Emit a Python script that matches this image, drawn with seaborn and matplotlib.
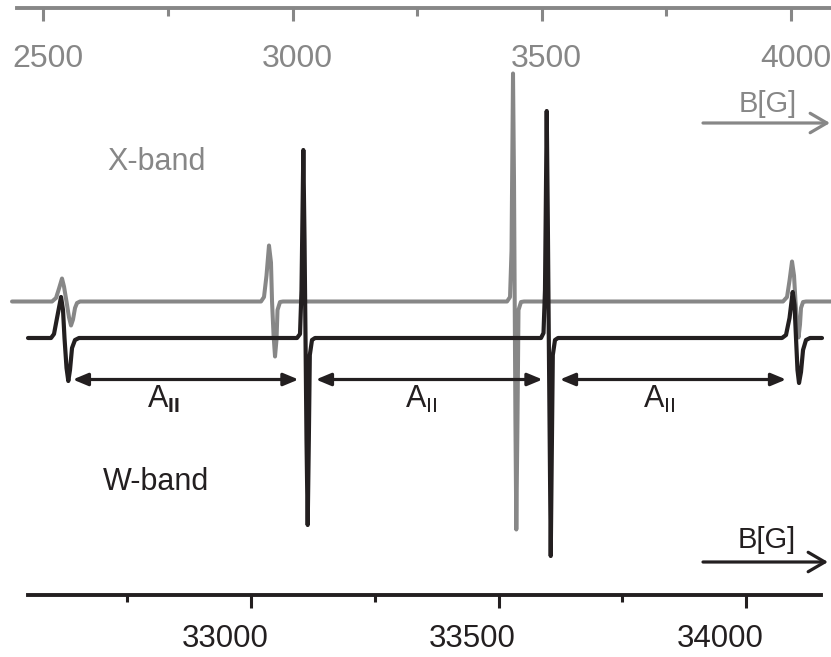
import numpy as np
import pandas as pd
import matplotlib
matplotlib.use("Agg")
import matplotlib.pyplot as plt
import seaborn as sns
from matplotlib.transforms import ScaledTranslation, blended_transform_factory

# ---------------- data ----------------
# X-band first-derivative EPR spectrum, key points: field [G], signal [a.u.]
xband_field = [2437.2,
               2517.5, 2525.5, 2531.5, 2537.5, 2541.5, 2546.5, 2551.6, 2555.6, 2559.6, 2563.6, 2567.6, 2573.6,
               2936.8, 2942.8, 2947.8, 2952.8, 2956.8, 2958.9, 2961.9, 2964.9, 2967.9, 2969.9, 2974.9, 2980.9,
               3430.4, 3436.4, 3439.4, 3442.4, 3444.4, 3445.8, 3447.2, 3449.0, 3451.4, 3453.4, 3458.4, 3464.5,
               3984.1, 3992.2, 3997.2, 4002.2, 4006.2, 4009.2, 4012.2, 4015.2, 4018.2, 4020.2, 4024.3, 4030.3,
               4080.4]
xband_signal = [0,
                0, 3.5, 13, 23, 15, 0, -16, -24, -18, -6.5, -1.5, 0,
                0, 4.5, 26, 56, 39, 0, -33, -55, -38, -8.5, -0.5, 0,
                0, 4.5, 51, 228, 121, 0, -118, -228, -118, -8.5, -0.5, 0,
                0, 4.5, 21, 40, 26, 0, -23, -36, -23, -6.5, -0.5, 0,
                0]

# W-band first-derivative EPR spectrum, key points: field [G], signal [a.u.]
wband_field = [32549.5,
               32596.0, 32602.0, 32608.1, 32616.2, 32620.2, 32623.2, 32627.3, 32630.9, 32634.3, 32638.4, 32644.4, 32652.5,
               33092.9, 33099.0, 33102.0, 33105.7, 33108.1, 33110.1, 33112.1, 33114.5, 33116.8, 33118.8, 33123.2, 33129.3,
               33585.9, 33590.9, 33593.9, 33597.4, 33599.6, 33601.6, 33603.6, 33605.5, 33607.7, 33609.7, 33614.1, 33620.2,
               34072.7, 34080.8, 34087.9, 34094.3, 34098.0, 34101.0, 34104.0, 34107.1, 34111.1, 34115.2, 34121.2, 34129.3,
               34153.5]
wband_signal = [0,
                0, 4, 20, 41, 28, 0, -30, -43, -32, -10, -2, 0,
                0, 4, 48, 188, 98, 0, -102, -187, -102, -17, -2, 0,
                0, 5, 48, 227, 118, 0, -112, -218, -112, -17, -2, 0,
                0, 3, 20, 46, 33, 0, -32, -45, -34, -12, -2, 0,
                0]

# hyperfine splitting arrows (W-band field, G)
a_par_start = [32640, 33131, 33624]
a_par_end = [33096, 33589, 34081]
a_par_labels = [r'$\mathregular{A}_{\mathbf{II}}$', r'$\mathregular{A_{II}}$', r'$\mathregular{A_{II}}$']

xband_ticks = [2500, 3000, 3500, 4000]
xband_minor = [2750, 3250, 3750]
wband_ticks = [33000, 33500, 34000]
wband_minor = [32750, 33250, 33750]

# ---------------- style ----------------
GRAY = '#878787'
BLACK = '#231f20'
X_OFFSET = 355.5
W_OFFSET = 319.0

sns.set_theme(style='white')
plt.rcParams['font.family'] = ['Liberation Sans', 'DejaVu Sans']
plt.rcParams['mathtext.fontset'] = 'custom'
plt.rcParams['mathtext.rm'] = 'Liberation Sans'
plt.rcParams['mathtext.bf'] = 'Liberation Sans:bold'

W, H = 831, 657
fig = plt.figure(figsize=(W / 100, H / 100), dpi=100)
fig.patch.set_facecolor('white')
ax = fig.add_axes([0, 62 / H, 1, 587.5 / H])
ax2 = ax.twiny()

df_x = pd.DataFrame({'field': xband_field, 'signal': np.array(xband_signal) + X_OFFSET})
df_w = pd.DataFrame({'field': wband_field, 'signal': np.array(wband_signal) + W_OFFSET})

sns.lineplot(data=df_x, x='field', y='signal', ax=ax2, sort=False, estimator=None,
             color=GRAY, lw=2.9, solid_joinstyle='round', solid_capstyle='round')
sns.lineplot(data=df_w, x='field', y='signal', ax=ax, sort=False, estimator=None,
             color=BLACK, lw=3.0, solid_joinstyle='round', solid_capstyle='round')

ax.set_zorder(2)
ax2.set_zorder(1)
ax.patch.set_visible(False)

ax.set_xlim(32492.9, 34171.7)
ax2.set_xlim(2413.1, 4080.4)
ax.set_ylim(62, 649.5)
for a in (ax, ax2):
    a.set_xlabel('')
    a.set_ylabel('')

# spines
for s in ['left', 'right', 'top']:
    ax.spines[s].set_visible(False)
ax.spines['bottom'].set_color(BLACK)
ax.spines['bottom'].set_linewidth(2.8)
ax.spines['bottom'].set_bounds(32549, 34151)
for s in ['left', 'right', 'bottom']:
    ax2.spines[s].set_visible(False)
ax2.spines['top'].set_color(GRAY)
ax2.spines['top'].set_linewidth(2.8)
ax2.spines['top'].set_bounds(2447, 4080.4)

# bottom (W-band) axis
ax.set_xticks(wband_ticks)
ax.set_xticklabels([str(v) for v in wband_ticks])
ax.set_xticks(wband_minor, minor=True)
ax.tick_params(axis='x', which='major', direction='out', length=9.4, width=2.2,
               color=BLACK, labelcolor=BLACK, labelsize=22.5, pad=11.5)
ax.tick_params(axis='x', which='minor', direction='out', length=5, width=2.2, color=BLACK)
ax.tick_params(axis='y', left=False, labelleft=False)
for lbl in ax.get_xticklabels():
    lbl.set_transform(lbl.get_transform() + ScaledTranslation(-0.26, 0, fig.dpi_scale_trans))

# top (X-band) axis
ax2.set_xticks(xband_ticks)
ax2.set_xticks(xband_minor, minor=True)
ax2.tick_params(axis='x', which='major', direction='in', top=True, bottom=False,
                labeltop=False, labelbottom=False, length=9, width=2.2, color=GRAY)
ax2.tick_params(axis='x', which='minor', direction='in', top=True, bottom=False,
                length=5.4, width=2.2, color=GRAY)
top_tr = blended_transform_factory(ax2.transData, fig.transFigure) + \
    ScaledTranslation(0.05, 0, fig.dpi_scale_trans)
for v in xband_ticks:
    ax2.text(v, 1 - 67 / H, str(v), transform=top_tr, ha='center', va='baseline',
             color=GRAY, fontsize=23)

# hyperfine arrows and labels
ARROW_Y = H - 379.5
for x0, x1 in zip(a_par_start, a_par_end):
    ax.annotate('', xy=(x1, ARROW_Y), xytext=(x0, ARROW_Y), xycoords='data', textcoords='data',
                arrowprops=dict(arrowstyle='<|-|>,head_length=0.6,head_width=0.25',
                                mutation_scale=15, lw=2.3, color=BLACK,
                                shrinkA=0, shrinkB=0))
label_left_px = [147, 405, 643]
for lx, txt in zip(label_left_px, a_par_labels):
    fig.text(lx / W, 1 - 408 / H, txt, ha='left', va='baseline', color=BLACK, fontsize=22)

# band labels
fig.text(107 / W, 1 - 169.5 / H, 'X-band', ha='left', va='baseline', color=GRAY, fontsize=22)
fig.text(103 / W, 1 - 490 / H, 'W-band', ha='left', va='baseline', color=BLACK, fontsize=22)

# B[G] direction arrows
fig.text(768 / W, 1 - 112 / H, 'B[G]', ha='center', va='baseline', color=GRAY, fontsize=21)
fig.text(767 / W, 1 - 548 / H, 'B[G]', ha='center', va='baseline', color=BLACK, fontsize=21)
for ypx, col, xend in [(123, GRAY, 830), (562, BLACK, 828)]:
    ax.annotate('', xy=(xend, H - ypx), xytext=(703, H - ypx),
                xycoords='figure pixels', textcoords='figure pixels',
                arrowprops=dict(arrowstyle='->,head_length=1.2,head_width=0.7',
                                mutation_scale=10, lw=2.3, color=col,
                                shrinkA=0, shrinkB=0))

fig.savefig('out.png', dpi=100, facecolor='white')
